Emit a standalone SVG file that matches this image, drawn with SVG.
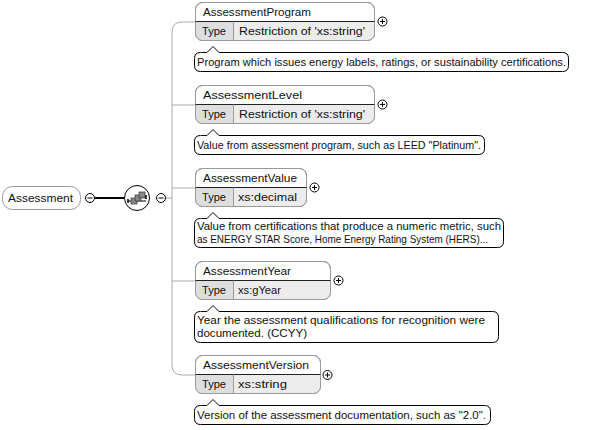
<svg xmlns="http://www.w3.org/2000/svg" width="592" height="430" viewBox="0 0 592 430">
<style>
text{font-family:"Liberation Sans",Arial,sans-serif;font-size:11px;fill:#111}
.box{fill:#fff;stroke:#9a9a9a;stroke-width:1}
.row{fill:#ececec;stroke:none}
.tc{fill:#dedede;stroke:none}
.ln{stroke:#9a9a9a;stroke-width:1;fill:none}
.ann{fill:#fff;stroke:#000;stroke-width:1}
.pm{fill:#fff;stroke:#000;stroke-width:1}
.con{stroke:#aaa;stroke-width:1;fill:none}
</style>
<defs>
<g id="plus"><circle r="4.5" class="pm"/><path d="M-2.5 0H2.5M0 -2.5V2.5" stroke="#000" stroke-width="1"/></g>
<g id="minus"><circle r="4.5" class="pm"/><path d="M-2.5 0H2.5" stroke="#000" stroke-width="1"/></g>
</defs>

<g id="connectors">
<path class="con" d="M195 22H182Q172 22 172 32V365Q172 375 182 375H195"/>
<path class="con" d="M172 105H195M172 188H195M172 281H195M165.5 198H172"/>
<path d="M94.5 198H124" stroke="#000" stroke-width="2"/>
</g>

<g id="Assessment">
<rect x="2.5" y="186.5" width="78" height="23" rx="10" class="box"/>
<text x="8" y="202" textLength="65" lengthAdjust="spacingAndGlyphs">Assessment</text>
<use href="#minus" x="90" y="198"/>
</g>

<g id="sequence">
<circle cx="137" cy="198" r="12.5" fill="#fff" stroke="#000" stroke-width="1"/>
<path d="M128 201H146" stroke="#000" stroke-width="1"/>
<path d="M128 199V203M146 195V199" stroke="#000" stroke-width="1.5"/>
<path d="M146 197H143" stroke="#000" stroke-width="1"/>
<rect x="131" y="198" width="6" height="6" fill="#888" stroke="#333" stroke-width="0.7"/>
<rect x="135" y="195" width="6" height="6" fill="#888" stroke="#333" stroke-width="0.7"/>
<rect x="139" y="192" width="6" height="6" fill="#888" stroke="#333" stroke-width="0.7"/>
<use href="#minus" x="161" y="198"/>
</g>

<g id="AssessmentProgram">
<rect x="195.5" y="2.5" width="179" height="38" rx="7" class="box"/>
<path d="M196 21.5H374V33Q374 40 367 40H203Q196 40 196 33Z" class="row"/>
<path d="M196 21.5H233V40H203Q196 40 196 33Z" class="tc"/>
<rect x="195.5" y="2.5" width="179" height="38" rx="7" fill="none" stroke="#9a9a9a"/>
<path d="M195.5 21.5H374.5" stroke="#222"/>
<path d="M233.5 21.5V40" class="ln"/>
<text x="203" y="16" textLength="108" lengthAdjust="spacingAndGlyphs">AssessmentProgram</text>
<text x="202" y="35" textLength="24" lengthAdjust="spacingAndGlyphs">Type</text>
<text x="239" y="35" textLength="126" lengthAdjust="spacingAndGlyphs">Restriction of 'xs:string'</text>
<use href="#plus" x="382.5" y="21.5"/>
<path class="ann" d="M201.5 52.5H207L213 46.5L219 52.5H562.5Q568.5 52.5 568.5 58.5V65.5Q568.5 71.5 562.5 71.5H200.5Q194.5 71.5 194.5 65.5V58.5Q194.5 52.5 200.5 52.5Z"/>
<text x="197" y="66" textLength="369" lengthAdjust="spacingAndGlyphs">Program which issues energy labels, ratings, or sustainability certifications.</text>
</g>

<g id="AssessmentLevel">
<rect x="195.5" y="85.5" width="179" height="38" rx="7" class="box"/>
<path d="M196 104.5H374V116Q374 123 367 123H203Q196 123 196 116Z" class="row"/>
<path d="M196 104.5H233V123H203Q196 123 196 116Z" class="tc"/>
<rect x="195.5" y="85.5" width="179" height="38" rx="7" fill="none" stroke="#9a9a9a"/>
<path d="M195.5 104.5H374.5" stroke="#222"/>
<path d="M233.5 104.5V123" class="ln"/>
<text x="203" y="99" textLength="99" lengthAdjust="spacingAndGlyphs">AssessmentLevel</text>
<text x="202" y="118" textLength="24" lengthAdjust="spacingAndGlyphs">Type</text>
<text x="239" y="118" textLength="126" lengthAdjust="spacingAndGlyphs">Restriction of 'xs:string'</text>
<use href="#plus" x="382.5" y="104.5"/>
<path class="ann" d="M201.5 135.5H207L213 129.5L219 135.5H478.5Q484.5 135.5 484.5 141.5V148.5Q484.5 154.5 478.5 154.5H200.5Q194.5 154.5 194.5 148.5V141.5Q194.5 135.5 200.5 135.5Z"/>
<text x="197" y="149" textLength="284" lengthAdjust="spacingAndGlyphs">Value from assessment program, such as LEED "Platinum".</text>
</g>

<g id="AssessmentValue">
<rect x="195.5" y="168.5" width="111" height="38" rx="7" class="box"/>
<path d="M196 187.5H306V199Q306 206 299 206H203Q196 206 196 199Z" class="row"/>
<path d="M196 187.5H233V206H203Q196 206 196 199Z" class="tc"/>
<rect x="195.5" y="168.5" width="111" height="38" rx="7" fill="none" stroke="#9a9a9a"/>
<path d="M195.5 187.5H306.5" stroke="#222"/>
<path d="M233.5 187.5V206" class="ln"/>
<text x="203" y="182" textLength="94" lengthAdjust="spacingAndGlyphs">AssessmentValue</text>
<text x="202" y="201" textLength="24" lengthAdjust="spacingAndGlyphs">Type</text>
<text x="238" y="201" textLength="59" lengthAdjust="spacingAndGlyphs">xs:decimal</text>
<use href="#plus" x="314.5" y="187.5"/>
<path class="ann" d="M201.5 218.5H207L213 212.5L219 218.5H497.5Q503.5 218.5 503.5 224.5V241.5Q503.5 247.5 497.5 247.5H200.5Q194.5 247.5 194.5 241.5V224.5Q194.5 218.5 200.5 218.5Z"/>
<text x="197" y="230" textLength="304" lengthAdjust="spacingAndGlyphs">Value from certifications that produce a numeric metric, such</text>
<text x="197" y="243" textLength="291" lengthAdjust="spacingAndGlyphs">as ENERGY STAR Score, Home Energy Rating System (HERS)...</text>
</g>

<g id="AssessmentYear">
<rect x="195.5" y="261.5" width="135" height="38" rx="7" class="box"/>
<path d="M196 280.5H330V292Q330 299 323 299H203Q196 299 196 292Z" class="row"/>
<path d="M196 280.5H233V299H203Q196 299 196 292Z" class="tc"/>
<rect x="195.5" y="261.5" width="135" height="38" rx="7" fill="none" stroke="#9a9a9a"/>
<path d="M195.5 280.5H330.5" stroke="#222"/>
<path d="M233.5 280.5V299" class="ln"/>
<text x="203" y="275" textLength="88" lengthAdjust="spacingAndGlyphs">AssessmentYear</text>
<text x="202" y="294" textLength="24" lengthAdjust="spacingAndGlyphs">Type</text>
<text x="238" y="294" textLength="43" lengthAdjust="spacingAndGlyphs">xs:gYear</text>
<use href="#plus" x="338.5" y="280.5"/>
<path class="ann" d="M201.5 311.5H207L213 305.5L219 311.5H492.5Q498.5 311.5 498.5 317.5V336.5Q498.5 342.5 492.5 342.5H200.5Q194.5 342.5 194.5 336.5V317.5Q194.5 311.5 200.5 311.5Z"/>
<text x="197" y="324" textLength="288" lengthAdjust="spacingAndGlyphs">Year the assessment qualifications for recognition were</text>
<text x="197" y="337" textLength="110" lengthAdjust="spacingAndGlyphs">documented. (CCYY)</text>
</g>

<g id="AssessmentVersion">
<rect x="195.5" y="355.5" width="125" height="38" rx="7" class="box"/>
<path d="M196 374.5H320V386Q320 393 313 393H203Q196 393 196 386Z" class="row"/>
<path d="M196 374.5H233V393H203Q196 393 196 386Z" class="tc"/>
<rect x="195.5" y="355.5" width="125" height="38" rx="7" fill="none" stroke="#9a9a9a"/>
<path d="M195.5 374.5H320.5" stroke="#222"/>
<path d="M233.5 374.5V393" class="ln"/>
<text x="203" y="369" textLength="106" lengthAdjust="spacingAndGlyphs">AssessmentVersion</text>
<text x="202" y="388" textLength="24" lengthAdjust="spacingAndGlyphs">Type</text>
<text x="238" y="388" textLength="49" lengthAdjust="spacingAndGlyphs">xs:string</text>
<use href="#plus" x="327.5" y="375"/>
<path class="ann" d="M201.5 405.5H207L213 399.5L219 405.5H484.5Q490.5 405.5 490.5 411.5V418.5Q490.5 424.5 484.5 424.5H200.5Q194.5 424.5 194.5 418.5V411.5Q194.5 405.5 200.5 405.5Z"/>
<text x="197" y="419" textLength="289" lengthAdjust="spacingAndGlyphs">Version of the assessment documentation, such as "2.0".</text>
</g>
</svg>
